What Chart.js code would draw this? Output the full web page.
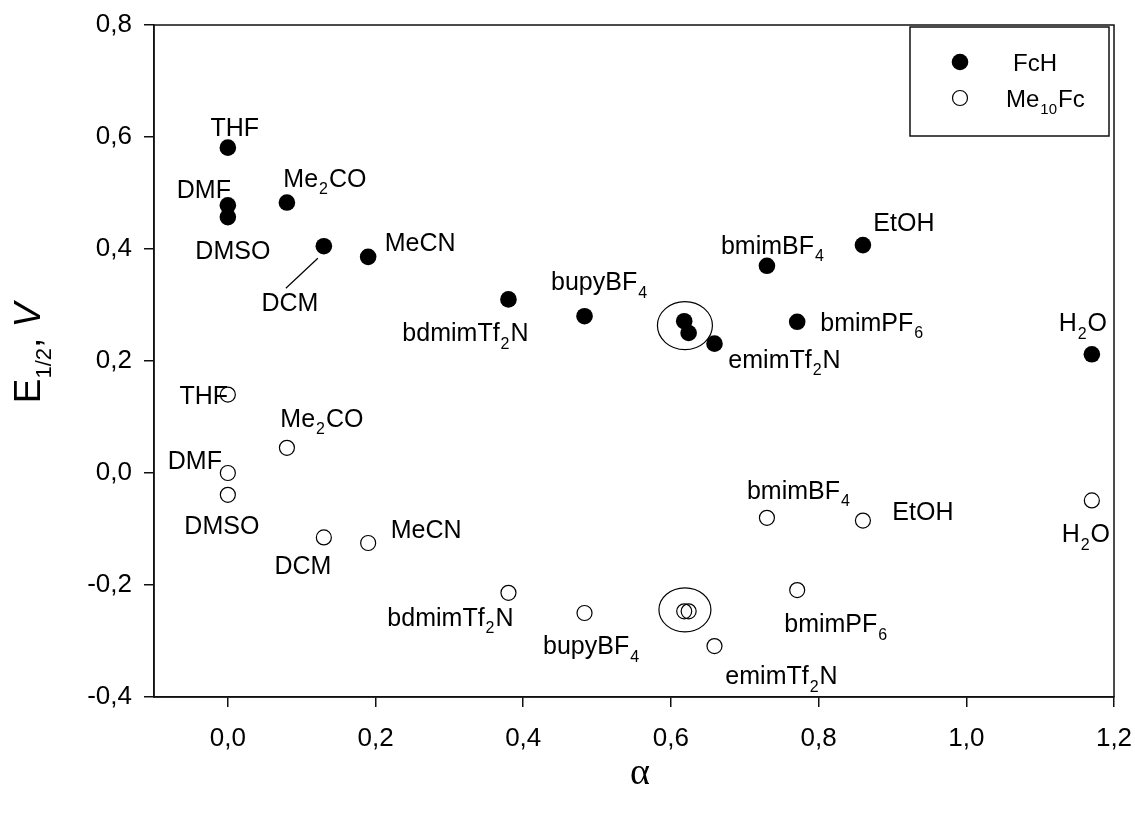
<!DOCTYPE html>
<html>
<head>
<meta charset="utf-8">
<script src="https://cdn.jsdelivr.net/npm/chart.js@4.4.0/dist/chart.umd.min.js"></script>
<style>html,body{margin:0;padding:0;background:#fff}</style>
</head>
<body>
<canvas id="c" width="1135" height="814"></canvas>
<script>
// solvent names, "_2" means subscript 2; the two circled points carry no label
const solvents = ['THF','DMF','DMSO','Me_2CO','DCM','MeCN','bdmimTf_2N','bupyBF_4','','','emimTf_2N','bmimBF_4','bmimPF_6','EtOH','H_2O'];
const alpha   = [0, 0, 0, 0.08, 0.13, 0.19, 0.38, 0.483, 0.618, 0.624, 0.659, 0.73, 0.771, 0.86, 1.17];
const eFcH    = [0.581, 0.478, 0.457, 0.483, 0.405, 0.386, 0.310, 0.280, 0.271, 0.250, 0.231, 0.370, 0.270, 0.407, 0.212];
const eMe10Fc = [0.140, 0.000, -0.039, 0.045, -0.115, -0.125, -0.214, -0.250, -0.247, -0.247, -0.309, -0.080, -0.209, -0.085, -0.049];
const xTicks = [0, 0.2, 0.4, 0.6, 0.8, 1.0, 1.2];
const yTicks = [-0.4, -0.2, 0, 0.2, 0.4, 0.6, 0.8];

// label offsets (px) from each point
const fchOff = [[7,-21],[-24,-16],[5,33],[38,-25],[-34,56],[52,-15],[-43,33],[15,-35],null,null,[70,15],[6,-21],[75,0],[41,-23],[-9,-32]];
const meOff  = [[-24,0],[-33,-13],[-6,30],[35,-30],[-21,28],[58,-14],[-58,24],[7,32],null,null,[67,29],[32,-28],[39,33],[60,-10],[-6,33]];

const FONT = '"Liberation Sans", Arial, sans-serif';
const fmt = v => Number(v).toFixed(1).replace('.', ',');

function segs(text) {
  const out = []; const re = /_(\d+)/g; let last = 0, m;
  while ((m = re.exec(text))) {
    if (m.index > last) out.push({t: text.slice(last, m.index), sub: false});
    out.push({t: m[1], sub: true});
    last = re.lastIndex;
  }
  if (last < text.length) out.push({t: text.slice(last), sub: false});
  return out;
}

function drawRich(ctx, text, x, cy, size, align) {
  const parts = segs(text);
  const main = size + 'px ' + FONT, small = Math.round(size * 0.64) + 'px ' + FONT;
  let w = 0;
  parts.forEach(p => { ctx.font = p.sub ? small : main; p.w = ctx.measureText(p.t).width + (p.sub ? 2 : 0); w += p.w; });
  let cx = align === 'left' ? x : x - w / 2;
  const base = cy + size * 0.36;
  ctx.textAlign = 'left'; ctx.textBaseline = 'alphabetic'; ctx.fillStyle = '#000';
  parts.forEach(p => {
    ctx.font = p.sub ? small : main;
    ctx.fillText(p.t, cx + (p.sub ? 1 : 0), base + (p.sub ? size * 0.3 : 0));
    cx += p.w;
  });
}

const annot = {
  id: 'annot',
  afterDatasetsDraw(chart) {
    const ctx = chart.ctx, a = chart.chartArea;
    const xs = chart.scales.x, ys = chart.scales.y;
    ctx.save();
    // frame
    ctx.strokeStyle = '#111'; ctx.lineWidth = 1.5;
    ctx.strokeRect(a.left, a.top, a.right - a.left, a.bottom - a.top);

    // point labels
    [[eFcH, fchOff], [eMe10Fc, meOff]].forEach(([vals, off]) => {
      vals.forEach((v, i) => {
        if (!off[i] || !solvents[i]) return;
        const px = xs.getPixelForValue(alpha[i]), py = ys.getPixelForValue(v);
        drawRich(ctx, solvents[i], px + off[i][0], py + off[i][1], 25, 'center');
      });
    });

    // DCM leader line
    const dx = xs.getPixelForValue(alpha[4]), dy = ys.getPixelForValue(eFcH[4]);
    ctx.lineWidth = 1.2; ctx.strokeStyle = '#000';
    ctx.beginPath(); ctx.moveTo(dx - 6, dy + 12); ctx.lineTo(dx - 38, dy + 42); ctx.stroke();

    // ellipses round the close pair
    [[eFcH, 27.5, 24], [eMe10Fc, 26, 22]].forEach(([vals, rx, ry]) => {
      const cx = (xs.getPixelForValue(alpha[8]) + xs.getPixelForValue(alpha[9])) / 2;
      const cy = (ys.getPixelForValue(vals[8]) + ys.getPixelForValue(vals[9])) / 2;
      ctx.beginPath(); ctx.ellipse(cx - 1.5, cy - 1.5, rx, ry, 0, 0, Math.PI * 2); ctx.stroke();
    });

    // legend
    const lx = a.right - 204, ly = a.top + 2;
    ctx.lineWidth = 1.5; ctx.strokeStyle = '#111';
    ctx.strokeRect(lx, ly, 199, 109);
    const ds = chart.data.datasets;
    ctx.beginPath(); ctx.arc(lx + 50, ly + 35, ds[0].pointRadius, 0, Math.PI * 2);
    ctx.fillStyle = '#000'; ctx.fill();
    ctx.beginPath(); ctx.arc(lx + 50, ly + 71, ds[1].pointRadius, 0, Math.PI * 2);
    ctx.lineWidth = ds[1].borderWidth; ctx.strokeStyle = '#000'; ctx.stroke();
    drawRich(ctx, 'FcH', lx + 103, ly + 35, 24, 'left');
    drawRich(ctx, 'Me_10Fc', lx + 96, ly + 71, 24, 'left');

    // x title
    ctx.fillStyle = '#000';
    ctx.font = '38px "Liberation Serif", "DejaVu Serif", serif';
    ctx.textAlign = 'center'; ctx.textBaseline = 'middle';
    ctx.fillText('α', (a.left + a.right) / 2 + 6, a.bottom + 77);

    // y title
    ctx.save();
    ctx.translate(27, (a.top + a.bottom) / 2 - 8);
    ctx.rotate(-Math.PI / 2);
    const big = '37px ' + FONT, sm = '22px ' + FONT, it = 'italic 37px ' + FONT;
    const parts = [['E', big, 0], ['1/2', sm, 11], [', ', big, 0], ['V', it, 0]];
    let w = 0;
    parts.forEach(p => { ctx.font = p[1]; p.w = ctx.measureText(p[0]).width; w += p.w; });
    let x = -w / 2;
    ctx.textAlign = 'left'; ctx.textBaseline = 'alphabetic';
    parts.forEach(p => { ctx.font = p[1]; ctx.fillText(p[0], x, 13 + p[2]); x += p.w; });
    ctx.restore();

    ctx.restore();
  }
};

const noPad = s => { s.paddingLeft = 0; s.paddingRight = 0; s.paddingTop = 0; s.paddingBottom = 0; };

new Chart(document.getElementById('c'), {
  type: 'scatter',
  data: {
    datasets: [
      {label: 'FcH', data: alpha.map((a, i) => ({x: a, y: eFcH[i]})),
       pointRadius: 8.3, backgroundColor: '#000', borderColor: '#000', borderWidth: 0},
      {label: 'Me10Fc', data: alpha.map((a, i) => ({x: a, y: eMe10Fc[i]})),
       pointRadius: 7.5, backgroundColor: 'rgba(0,0,0,0)', borderColor: '#000', borderWidth: 1.2}
    ]
  },
  options: {
    responsive: false, animation: false, events: [],
    layout: {padding: {top: 25, right: 21, left: 0, bottom: 0}},
    plugins: {legend: {display: false}, tooltip: {enabled: false}},
    scales: {
      x: {
        type: 'linear', min: -0.1, max: 1.2,
        afterBuildTicks: s => { s.ticks = xTicks.map(v => ({value: v})); },
        afterFit: s => { s.height = 117; noPad(s); },
        ticks: {font: {family: FONT, size: 26}, color: '#000', padding: 16, maxRotation: 0, autoSkip: false, callback: fmt},
        grid: {drawOnChartArea: false, drawTicks: true, tickLength: 10, color: '#111', lineWidth: 1.5},
        border: {display: true, color: '#111', width: 1.5}
      },
      y: {
        type: 'linear', min: -0.4, max: 0.8,
        afterBuildTicks: s => { s.ticks = yTicks.map(v => ({value: v})); },
        afterFit: s => { s.width = 154; noPad(s); },
        ticks: {font: {family: FONT, size: 26}, color: '#000', padding: 12, autoSkip: false, callback: fmt},
        grid: {drawOnChartArea: false, drawTicks: true, tickLength: 10, color: '#111', lineWidth: 1.5},
        border: {display: true, color: '#111', width: 1.5}
      }
    }
  },
  plugins: [annot]
});
</script>
</body>
</html>
